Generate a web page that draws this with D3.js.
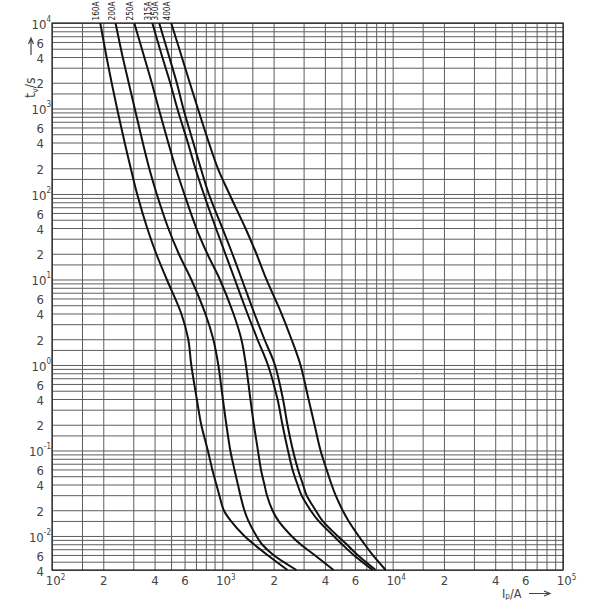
<!DOCTYPE html>
<html><head><meta charset="utf-8">
<script src="https://cdn.jsdelivr.net/npm/d3@7"></script>
<style>body{margin:0;background:#fff}</style>
</head><body><svg id="c" width="600" height="600"></svg>
<script>
// ---- data ----
const ratings = ["160A", "200A", "250A", "315A", "350A", "400A"];
const times = [10000, 4000, 2000, 1000, 400, 200, 100, 40, 20, 10, 4, 2, 1, 0.4, 0.2, 0.1, 0.06, 0.04, 0.03, 0.02, 0.015, 0.01, 0.008, 0.006, 0.004];
const current160 = [192, 209, 224, 241, 267, 290, 316, 362, 409, 472, 574, 631, 657, 708, 752, 822, 873, 922, 960, 1020, 1122, 1347, 1532, 1840, 2412];
const current200 = [236, 260, 282, 306, 341, 372, 412, 481, 555, 657, 794, 885, 947, 1007, 1056, 1114, 1177, 1234, 1276, 1347, 1422, 1585, 1708, 1995, 2725];
const current250 = [304, 348, 385, 423, 481, 533, 598, 703, 816, 967, 1161, 1293, 1375, 1461, 1532, 1618, 1685, 1766, 1827, 1968, 2135, 2546, 2876, 3477, 4498];
const current315 = [388, 444, 494, 544, 627, 694, 778, 916, 1041, 1184, 1403, 1607, 1852, 2107, 2254, 2428, 2581, 2762, 2915, 3293, 3671, 4498, 5045, 5898, 7627];
const current350 = [426, 488, 540, 590, 675, 747, 833, 1000, 1145, 1302, 1543, 1766, 2036, 2269, 2412, 2598, 2781, 2975, 3120, 3525, 3875, 4748, 5364, 6225, 7943];
const current400 = [501, 578, 644, 718, 833, 941, 1100, 1365, 1585, 1815, 2224, 2546, 2876, 3205, 3477, 3772, 4091, 4377, 4620, 5080, 5510, 6310, 6844, 7627, 9095];
const seriesCurrents = [current160, current200, current250, current315, current350, current400];

const xTickValues = [100, 200, 400, 600, 1000, 2000, 4000, 6000, 10000, 20000, 40000, 60000, 100000];
const yTickValues = [10000, 6000, 4000, 2000, 1000, 600, 400, 200, 100, 60, 40, 20, 10, 6, 4, 2, 1, 0.6, 0.4, 0.2, 0.1, 0.06, 0.04, 0.02, 0.01, 0.006, 0.004];
const gridMantissas = [1, 1.5, 2, 3, 4, 5, 6, 7, 8, 9];
const xTitle = ["I", "p", "/A"];
const yTitle = ["t", "v", "/s"];

// ---- layout ----
const L = 52, R = 563, T = 23, B = 570;
const svg = d3.select("#c");
const FONT = "'DejaVu Sans Condensed','DejaVu Sans',sans-serif";
const x = d3.scaleLog().domain([100, 100000]).range([L, R]);
const y = d3.scaleLog().domain([0.004, 10000]).range([B, T]);

function gridVals(lo, hi) {
  const out = [];
  for (let e = Math.floor(Math.log10(lo)); e <= Math.ceil(Math.log10(hi)); e++) {
    for (const m of gridMantissas) {
      const v = +(m * Math.pow(10, e)).toPrecision(6);
      if (v >= lo * 0.9999 && v <= hi * 1.0001) out.push(v);
    }
  }
  return out;
}
const xGrid = gridVals(100, 100000);
const yGrid = gridVals(0.004, 10000);

// grid via axes
svg.append("g").attr("transform", `translate(0,${B})`)
  .call(d3.axisBottom(x).tickValues(xGrid).tickSize(-(B - T)).tickFormat(""))
  .call(g => g.select(".domain").remove())
  .call(g => g.selectAll(".tick line").attr("stroke", "#5e5e5e").attr("stroke-width", 1));
svg.append("g").attr("transform", `translate(${L},0)`)
  .call(d3.axisLeft(y).tickValues(yGrid).tickSize(-(R - L)).tickFormat(""))
  .call(g => g.select(".domain").remove())
  .call(g => g.selectAll(".tick line").attr("stroke", "#5e5e5e").attr("stroke-width", 1));

// frame
svg.append("rect").attr("x", L).attr("y", T).attr("width", R - L).attr("height", B - T)
  .attr("fill", "none").attr("stroke", "#222").attr("stroke-width", 1.2);

function isPow(v) { const l = Math.log10(v); return Math.abs(l - Math.round(l)) < 1e-9; }
function mant(v) { return Math.round(v / Math.pow(10, Math.floor(Math.log10(v) + 1e-9))); }
function fillLabel(sel, v, supDy) {
  sel.text(null);
  if (isPow(v)) {
    sel.append("tspan").text("10");
    sel.append("tspan").attr("font-size", 8).attr("dy", supDy).text(Math.round(Math.log10(v)));
  } else {
    sel.text(mant(v));
  }
}

// x tick labels
svg.append("g").attr("transform", `translate(0,${B})`)
  .call(d3.axisBottom(x).tickValues(xTickValues).tickSize(0).tickPadding(6).tickFormat(d => d))
  .call(g => g.select(".domain").remove())
  .call(g => g.selectAll(".tick text").each(function (d) {
    const t = d3.select(this);
    fillLabel(t, d, -5);
    t.attr("font-family", FONT).attr("font-size", 13).attr("fill", "#444");
    if (isPow(d)) t.attr("x", 3);
  }));

// y tick labels
svg.append("g").attr("transform", `translate(${L},0)`)
  .call(d3.axisLeft(y).tickValues(yTickValues).tickSize(0).tickPadding(8).tickFormat(d => d))
  .call(g => g.select(".domain").remove())
  .call(g => g.selectAll(".tick text").each(function (d) {
    const t = d3.select(this);
    fillLabel(t, d, -7);
    t.attr("font-family", FONT).attr("font-size", 13).attr("fill", "#444").attr("dy", "0.4em");
    if (isPow(d)) t.attr("x", -1);
  }));

// curves
const line = d3.line().x(d => x(d[0])).y(d => y(d[1])).curve(d3.curveCatmullRom.alpha(0.5));
seriesCurrents.forEach((cur, i) => {
  const pts = cur.map((c, k) => [c, times[k]]);
  svg.append("path").attr("d", line(pts)).attr("fill", "none")
    .attr("stroke", "#111").attr("stroke-width", 2).attr("stroke-linejoin", "round");
  svg.append("text")
    .attr("transform", `translate(${x(cur[0]) - 4},${T - 2.5}) rotate(-90)`)
    .attr("dy", "0.36em").attr("font-family", FONT).attr("font-size", 8.8).attr("fill", "#222")
    .attr("textLength", 19).attr("lengthAdjust", "spacingAndGlyphs")
    .text(ratings[i]);
});

// y title (rotated) with arrow
const yt = svg.append("text").attr("transform", `translate(35,98) rotate(-90)`)
  .attr("font-family", FONT).attr("font-size", 14).attr("fill", "#444");
yt.append("tspan").text(yTitle[0]);
yt.append("tspan").attr("font-size", 9).attr("dy", 3).text(yTitle[1]);
yt.append("tspan").attr("dy", -3).text(yTitle[2]);
svg.append("path").attr("d", "M31,55 L31,38 M28.5,44 L31,38 L33.5,44")
  .attr("fill", "none").attr("stroke", "#444").attr("stroke-width", 1.2);

// x title with arrow
const xt = svg.append("text").attr("transform", `translate(502,597.5)`)
  .attr("font-family", FONT).attr("font-size", 12.5).attr("fill", "#444");
xt.append("tspan").text(xTitle[0]);
xt.append("tspan").attr("font-size", 8).attr("dy", 1).text(xTitle[1]);
xt.append("tspan").attr("dy", -1).text(xTitle[2]);
svg.append("path").attr("d", "M529,593.5 L550,593.5 M544,591 L550,593.5 L544,596")
  .attr("fill", "none").attr("stroke", "#444").attr("stroke-width", 1.2);
</script>
</body></html>
